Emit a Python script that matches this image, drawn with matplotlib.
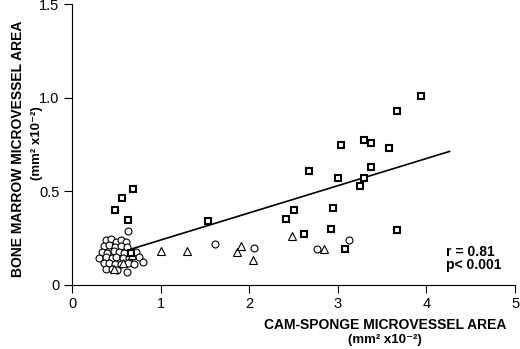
import numpy as np
import matplotlib
matplotlib.use('Agg')
import matplotlib.pyplot as plt

# bone marrow vs CAM-sponge microvessel area
sq_x = [3.94, 3.67, 3.04, 3.30, 3.37, 3.58, 2.68, 3.37, 3.00, 3.30, 3.25, 2.94,
        2.62, 2.92, 3.67, 1.53, 2.42, 2.50, 3.08, 0.69, 0.56, 0.49, 0.63, 0.66]
sq_y = [1.01, 0.93, 0.75, 0.775, 0.76, 0.73, 0.61, 0.63, 0.57, 0.57, 0.53, 0.41,
        0.275, 0.30, 0.295, 0.34, 0.355, 0.40, 0.19, 0.515, 0.465, 0.40, 0.35, 0.17]

ci_x = [0.38, 0.44, 0.50, 0.55, 0.61,
        0.36, 0.42, 0.49, 0.55, 0.62,
        0.34, 0.40, 0.47, 0.53, 0.59, 0.72,
        0.31, 0.38, 0.45, 0.50, 0.57, 0.64, 0.76,
        0.36, 0.42, 0.49, 0.55, 0.63, 0.70, 0.80,
        0.38, 0.45, 0.51, 0.62,
        0.63, 1.61, 2.05, 2.77, 3.13]
ci_y = [0.24, 0.245, 0.232, 0.24, 0.228,
        0.208, 0.212, 0.204, 0.21, 0.205,
        0.178, 0.173, 0.18, 0.176, 0.17, 0.178,
        0.146, 0.15, 0.143, 0.148, 0.145, 0.142, 0.148,
        0.115, 0.118, 0.112, 0.11, 0.115, 0.112, 0.125,
        0.085, 0.088, 0.08, 0.072,
        0.29, 0.22, 0.197, 0.19, 0.24]

tr_x = [1.00, 1.30, 1.86, 1.91, 2.04, 2.48, 2.84, 0.68, 0.47, 0.58]
tr_y = [0.18, 0.18, 0.175, 0.21, 0.133, 0.26, 0.19, 0.16, 0.085, 0.12]

# regression line
slope, intercept = 0.1453, 0.095
fit_x = [0.62, 4.26]

fig = plt.figure(figsize=(5.2, 3.49), dpi=100)
ax = fig.add_axes([0.1385, 0.1834, 0.852, 0.804])

ax.plot(fit_x, [slope * v + intercept for v in fit_x], color='black', lw=1.2, zorder=2)
ax.plot(ci_x, ci_y, 'o', ms=5, mfc='white', mec='black', mew=0.8, zorder=3)
ax.plot(tr_x, tr_y, '^', ms=5.5, mfc='white', mec='black', mew=0.8, zorder=3)
ax.plot(sq_x, sq_y, 's', ms=5, mfc='white', mec='black', mew=1.5, zorder=4)

ax.set_xlim(0, 5)
ax.set_ylim(0, 1.5)
ax.set_xticks([0, 1, 2, 3, 4, 5])
ax.set_xticklabels(['0', '1', '2', '3', '4', '5'])
ax.set_yticks([0, 0.5, 1.0, 1.5])
ax.set_yticklabels(['0', '0.5', '1.0', '1.5'])
ax.spines['top'].set_visible(False)
ax.spines['right'].set_visible(False)
for s in ['left', 'bottom']:
    ax.spines[s].set_linewidth(0.8)
ax.tick_params(direction='out', length=6, width=0.8, labelsize=10.5, pad=3)
for lbl in ax.get_xticklabels() + ax.get_yticklabels():
    lbl.set_family('Liberation Sans')
ax.patch.set_alpha(0)

fam = ['Liberation Sans', 'DejaVu Sans']
fig.text(385 / 520, 1 - 325 / 349, 'CAM-SPONGE MICROVESSEL AREA', ha='center', va='center',
         fontsize=10, fontweight='bold', family=fam)
fig.text(385 / 520, 1 - 340 / 349, '(mm² x10⁻²)', ha='center', va='center',
         fontsize=9.5, fontweight='bold', family=fam)
fig.text(18 / 520, 1 - 149 / 349, 'BONE MARROW MICROVESSEL AREA', ha='center', va='center',
         rotation=90, fontsize=10, fontweight='bold', family=fam)
fig.text(37 / 520, 1 - 143 / 349, '(mm² x10⁻²)', ha='center', va='center',
         rotation=90, fontsize=9.5, fontweight='bold', family=fam)

ax.text(446 / 520, 1 - 252 / 349, 'r = 0.81', transform=fig.transFigure, ha='left', va='center',
        fontsize=10, fontweight='bold', family=fam)
ax.text(446 / 520, 1 - 265 / 349, 'p< 0.001', transform=fig.transFigure, ha='left', va='center',
        fontsize=10, fontweight='bold', family=fam)

fig.savefig('out.png', dpi=100)
